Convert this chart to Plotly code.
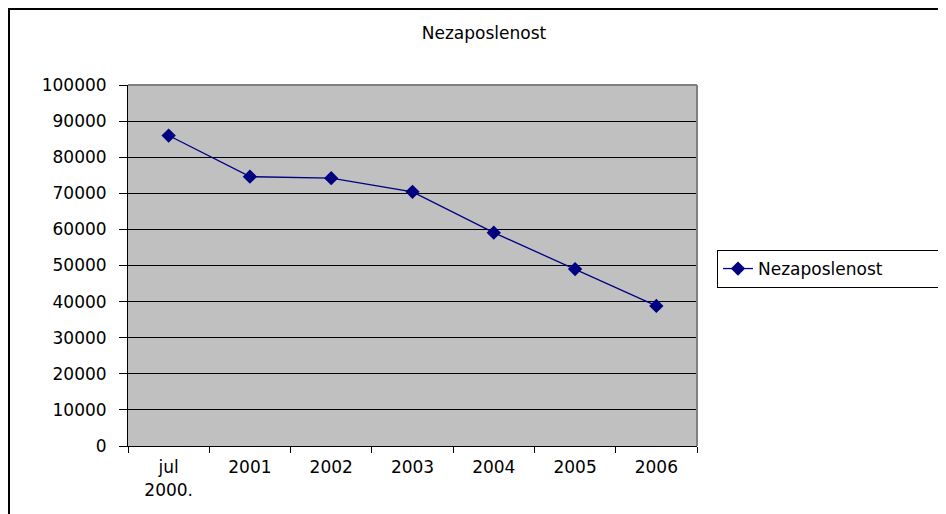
import plotly.graph_objects as go

categories = ["jul<br>2000.", "2001", "2002", "2003", "2004", "2005", "2006"]
values = [86000, 74600, 74200, 70400, 59100, 49000, 38800]
series_name = "Nezaposlenost"
title_text = "Nezaposlenost"

# page body adds an 8px margin, so the figure is drawn 8px in from the window corner
W, H = 938, 506
L, R, T, B = 120, 689, 77, 438

def px_x(px):
    return (px - L) / (R - L)

def px_y(py):
    return (B - py) / (B - T)

FONT = "DejaVu Sans, Verdana, sans-serif"
FS = 17

fig = go.Figure()
fig.add_trace(go.Scatter(
    x=categories, y=values, name=series_name, mode="lines+markers",
    line=dict(color="#000080", width=1.3),
    marker=dict(symbol="diamond", size=11, color="#000080"),
    showlegend=True,
))

fig.update_layout(
    width=W, height=H,
    margin=dict(l=L, r=W - R, t=T, b=H - B, pad=0, autoexpand=False),
    paper_bgcolor="#FFFFFF",
    plot_bgcolor="#C0C0C0",
    font=dict(family=FONT, size=FS, color="#000000"),
    title=dict(text=title_text, x=476 / W, xanchor="center",
               y=1 - 25 / H, yanchor="middle",
               font=dict(family=FONT, size=FS, color="#000000")),
    legend=dict(x=px_x(709), xanchor="left", y=px_y(242), yanchor="top",
                orientation="h", entrywidth=185, entrywidthmode="pixels",
                bgcolor="#FFFFFF", bordercolor="#000000", borderwidth=1,
                font=dict(family=FONT, size=FS), itemwidth=30),
    showlegend=True,
    xaxis=dict(
        type="category", tickson="boundaries", ticks="outside", ticklen=6,
        tickcolor="#000000", tickwidth=1, showgrid=False,
        showline=True, linecolor="#000000", linewidth=1,
        range=[-0.5, 6.5], ticklabelstandoff=6,
        tickfont=dict(family=FONT, size=FS),
    ),
    yaxis=dict(
        range=[0, 100000], dtick=10000, tickformat="d",
        ticks="outside", ticklen=8, tickcolor="#000000", tickwidth=1,
        showgrid=True, gridcolor="#000000", gridwidth=1,
        showline=True, linecolor="#000000", linewidth=1,
        zeroline=False, ticklabelstandoff=9,
        tickfont=dict(family=FONT, size=FS),
    ),
    shapes=[
        # plot area top/right gray border
        dict(type="line", xref="paper", yref="paper", x0=0, x1=1, y0=1, y1=1,
             line=dict(color="#808080", width=2)),
        dict(type="line", xref="paper", yref="paper", x0=1, x1=1, y0=0, y1=1,
             line=dict(color="#808080", width=2)),
        # outer chart border (left and top)
        dict(type="line", xref="paper", yref="paper", x0=px_x(0), x1=px_x(W + 5),
             y0=px_y(1), y1=px_y(1), line=dict(color="#000000", width=2)),
        dict(type="line", xref="paper", yref="paper", x0=px_x(0.5), x1=px_x(0.5),
             y0=px_y(0), y1=px_y(H + 5), line=dict(color="#000000", width=3)),
    ],
)

fig.write_html("out.html")
